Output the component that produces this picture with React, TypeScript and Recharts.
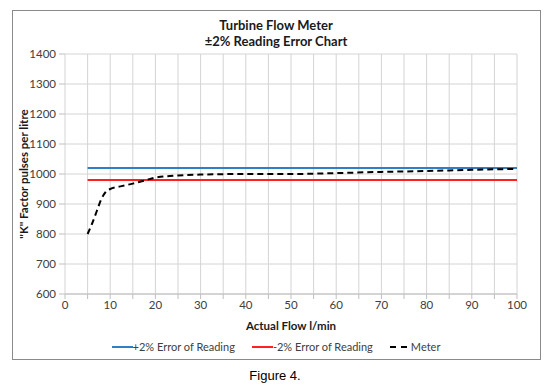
import { LineChart, Line, XAxis, YAxis, CartesianGrid } from 'recharts';

const flowTicks = [0, 5, 10, 15, 20, 25, 30, 35, 40, 45, 50, 55, 60, 65, 70, 75, 80, 85, 90, 95, 100];
const kTicks = [600, 700, 800, 900, 1000, 1100, 1200, 1300, 1400];

const bandFlow = [5, 100];
const upperLimit = [1020, 1020];
const lowerLimit = [980, 980];

const meterFlow = [5, 6, 7, 8, 9, 10, 12, 15, 18, 20, 25, 30, 40, 50, 60, 70, 80, 90, 100];
const meterK = [800, 835, 875, 915, 940, 950, 958, 968, 980, 988, 995, 998, 1000, 1000, 1003, 1007, 1010, 1014, 1017];

const upperData = bandFlow.map((f, i) => ({ flow: f, k: upperLimit[i] }));
const lowerData = bandFlow.map((f, i) => ({ flow: f, k: lowerLimit[i] }));
const meterData = meterFlow.map((f, i) => ({ flow: f, k: meterK[i] }));

const FONT = 'Lato, "Open Sans", sans-serif';
const GRID = '#d4d4d4';

const legendItems = [
  { name: '+2% Error of Reading', color: '#2e7fc8', dash: undefined, w: 21 },
  { name: '-2% Error of Reading', color: '#ff2020', dash: undefined, w: 21 },
  { name: 'Meter', color: '#000000', dash: '6 5', w: 17 },
];

function ChartLegend() {
  return (
    <div style={{ display: 'flex', justifyContent: 'center', gap: 17, fontFamily: FONT, fontSize: 11, lineHeight: '14px', color: '#404040' }}>
      {legendItems.map((item) => (
        <div key={item.name} style={{ display: 'flex', alignItems: 'center' }}>
          <svg width={item.w} height={6} style={{ marginRight: item.dash ? 4 : 0 }}>
            <line x1={0} y1={3} x2={item.w} y2={3} stroke={item.color} strokeWidth={2} strokeDasharray={item.dash} />
          </svg>
          <span>{item.name}</span>
        </div>
      ))}
    </div>
  );
}

export default function App() {
  return (
    <div style={{ position: 'absolute', left: 0, top: 0, width: 550, height: 389, background: '#fff' }}>
      <div style={{ position: 'absolute', left: 12, top: 10, width: 527, height: 348, border: '1px solid #8a8a8a' }} />
      <div style={{ position: 'absolute', left: 12, top: 17, width: 528, textAlign: 'center', fontFamily: FONT, fontWeight: 'bold', fontSize: 13, lineHeight: '16px', color: '#1a1a1a' }}>
        Turbine Flow Meter
        <br />
        ±2% Reading Error Chart
      </div>
      <div style={{ position: 'absolute', left: 0, top: 368, width: 550, textAlign: 'center', fontFamily: '"Liberation Sans", Arial, sans-serif', fontSize: 13, color: '#000' }}>
        Figure 4.
      </div>
      <div
        style={{
          position: 'absolute', left: 23, top: 174, transform: 'translate(-50%, -50%) rotate(-90deg)', whiteSpace: 'nowrap',
          fontFamily: FONT, fontWeight: 'bold', fontSize: 11.5, color: '#1a1a1a',
        }}
      >
        "K" Factor pulses per litre
      </div>
      <div style={{ position: 'absolute', left: 0, top: 0 }}>
        <LineChart width={550} height={389} margin={{ top: 54, right: 33, bottom: 65, left: 20 }}>
          <CartesianGrid stroke={GRID} strokeWidth={1} />
          <XAxis
            dataKey="flow"
            type="number"
            domain={[0, 100]}
            ticks={flowTicks}
            interval={0}
            tickFormatter={(v: number) => (v % 10 === 0 ? String(v) : '')}
            allowDuplicatedCategory={false}
            stroke="#bfbfbf"
            tickSize={5}
            tickMargin={2}
            tick={{ fill: '#404040', fontSize: 11.5, fontFamily: FONT }}
            label={{ value: 'Actual Flow l/min', position: 'insideBottom', offset: -6, style: { fontWeight: 'bold', fontSize: 11.5, fontFamily: FONT, fill: '#1a1a1a' } }}
          />
          <YAxis
            type="number"
            domain={[600, 1400]}
            ticks={kTicks}
            width={45}
            axisLine={false}
            stroke="#bfbfbf"
            tickSize={6}
            tickMargin={3}
            tick={{ fill: '#404040', fontSize: 11.5, fontFamily: FONT }}
          />
          <Line data={upperData} dataKey="k" name="+2% Error of Reading" stroke="#2e7fc8" strokeWidth={2} dot={false} isAnimationActive={false} />
          <Line data={lowerData} dataKey="k" name="-2% Error of Reading" stroke="#ff2020" strokeWidth={2} dot={false} isAnimationActive={false} />
          <Line data={meterData} dataKey="k" name="Meter" type="monotone" stroke="#000" strokeWidth={2} strokeDasharray="6 4" dot={false} isAnimationActive={false} />
        </LineChart>
      </div>
      <div style={{ position: 'absolute', left: 12, top: 340, width: 528 }}>
        <ChartLegend />
      </div>
    </div>
  );
}
